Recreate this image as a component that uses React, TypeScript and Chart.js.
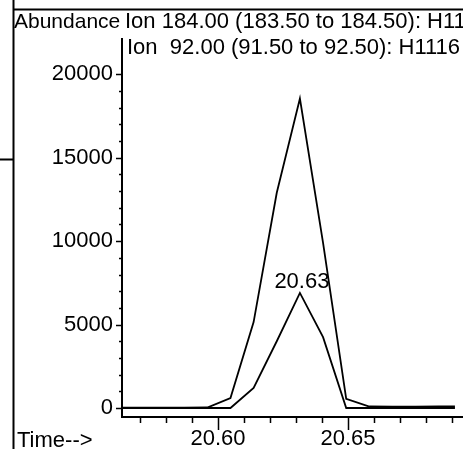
import React, { useEffect, useRef } from "react";
import { Chart, registerables } from "chart.js";
Chart.register(...registerables);

// Retention times (min) of the scans
const times = [20.5603, 20.5692, 20.5781, 20.587, 20.5959, 20.6048, 20.6137, 20.6226, 20.6315, 20.6404, 20.6493, 20.6582, 20.6671, 20.676, 20.6849, 20.6911];
// Ion 184.00 abundance
const ion184 = [20, 20, 20, 20, 30, 600, 5150, 12900, 18550, 9900, 550, 90, 80, 80, 90, 90];
// Ion 92.00 abundance
const ion92 = [0, 0, 0, 0, 0, 0, 1200, 4000, 6900, 4250, 0, 0, 0, 0, 0, 0];

const xTickValues = [20.57, 20.58, 20.59, 20.6, 20.61, 20.62, 20.63, 20.64, 20.65, 20.66, 20.67, 20.68, 20.69];
const xTickLabels = ["", "", "", "20.60", "", "", "", "", "20.65", "", "", "", ""];
const yTickValues = [0, 1000, 2000, 3000, 4000, 5000, 6000, 7000, 8000, 9000, 10000, 11000, 12000, 13000, 14000, 15000, 16000, 17000, 18000, 19000, 20000];
const yTickLabels = ["0", "", "", "", "", "5000", "", "", "", "", "10000", "", "", "", "", "15000", "", "", "", "", "20000"];

const peakLabel = "20.63";
const peakIndex = 8;

const titleLeft = "Abundance";
const title1 = "Ion 184.00 (183.50 to 184.50): H11";
const title2 = "Ion  92.00 (91.50 to 92.50): H1116";
const xTitle = "Time-->";

const FONT = "'Liberation Sans', Arial, sans-serif";

const overlay = {
  id: "overlay",
  afterDraw(chart: any) {
    const ctx = chart.ctx as CanvasRenderingContext2D;
    const xs = chart.scales.x;
    const ys = chart.scales.y;
    const area = chart.chartArea;
    ctx.save();
    ctx.strokeStyle = "#000";
    ctx.fillStyle = "#000";
    ctx.lineWidth = 2;
    // frame
    ctx.beginPath();
    ctx.moveTo(13.5, 0);
    ctx.lineTo(13.5, 449);
    ctx.moveTo(13, 9.5);
    ctx.lineTo(463, 9.5);
    ctx.moveTo(0, 159.5);
    ctx.lineTo(13, 159.5);
    ctx.stroke();
    // y axis extension to top
    ctx.beginPath();
    ctx.moveTo(area.left, area.top);
    ctx.lineTo(area.left, 38);
    ctx.stroke();
    // tick marks
    ctx.lineWidth = 1.5;
    ctx.beginPath();
    xTickValues.forEach((v, i) => {
      const px = Math.round(xs.getPixelForValue(v)) + 0.5;
      const len = xTickLabels[i] ? 13 : 6;
      ctx.moveTo(px, area.bottom);
      ctx.lineTo(px, area.bottom + len);
    });
    yTickValues.forEach((v, i) => {
      const py = Math.round(ys.getPixelForValue(v)) + 0.5;
      const len = yTickLabels[i] ? 6 : 3;
      ctx.moveTo(area.left, py);
      ctx.lineTo(area.left - len, py);
    });
    ctx.stroke();
    // texts
    ctx.font = `22px ${FONT}`;
    ctx.textBaseline = "alphabetic";
    ctx.textAlign = "left";
    ctx.save();
    ctx.font = `21px ${FONT}`;
    ctx.fillText(titleLeft, 14, 28);
    ctx.restore();
    ctx.fillText(title1, 125, 28);
    ctx.fillText(title2, 127, 54);
    ctx.fillText(xTitle, 17, 447);
    // peak annotation
    const px = xs.getPixelForValue(times[peakIndex]);
    const py = ys.getPixelForValue(ion92[peakIndex]);
    ctx.textAlign = "center";
    ctx.fillText(peakLabel, px + 2, py - 5);
    ctx.restore();
  },
};

export default function App() {
  const ref = useRef<HTMLCanvasElement | null>(null);
  useEffect(() => {
    if (!ref.current) return;
    const chart = new Chart(ref.current, {
      type: "line",
      data: {
        datasets: [
          {
            label: "Ion 184.00",
            data: times.map((t, i) => ({ x: t, y: ion184[i] })),
            borderColor: "#000",
            borderWidth: 1.8,
            pointRadius: 0,
            tension: 0,
            fill: false,
          },
          {
            label: "Ion 92.00",
            data: times.map((t, i) => ({ x: t, y: ion92[i] })),
            borderColor: "#000",
            borderWidth: 1.8,
            pointRadius: 0,
            tension: 0,
            fill: false,
          },
        ],
      },
      options: {
        responsive: false,
        animation: false,
        devicePixelRatio: 1,
        layout: { padding: { top: 41, right: 0, left: 0, bottom: 0 } },
        plugins: { legend: { display: false }, tooltip: { enabled: false }, title: { display: false } },
        scales: {
          x: {
            type: "linear",
            min: 20.5631,
            max: 20.6942,
            afterBuildTicks: (s: any) => {
              s.ticks = xTickValues.map((v) => ({ value: v }));
            },
            afterFit: (s: any) => {
              s.height = 32;
              s.paddingLeft = 0;
              s.paddingRight = 0;
            },
            ticks: {
              callback: (_v: any, i: number) => xTickLabels[i],
              autoSkip: false,
              maxRotation: 0,
              padding: 9,
              color: "#000",
              font: { family: FONT, size: 22 },
            },
            grid: { drawOnChartArea: false, drawTicks: false },
            border: { display: true, color: "#000", width: 2 },
          },
          y: {
            type: "linear",
            min: -540,
            max: 22000,
            afterBuildTicks: (s: any) => {
              s.ticks = yTickValues.map((v) => ({ value: v }));
            },
            afterFit: (s: any) => {
              s.width = 122;
              s.paddingTop = 0;
              s.paddingBottom = 0;
            },
            ticks: {
              callback: (_v: any, i: number) => yTickLabels[i],
              autoSkip: false,
              padding: 9,
              color: "#000",
              font: { family: FONT, size: 22 },
            },
            grid: { drawOnChartArea: false, drawTicks: false },
            border: { display: true, color: "#000", width: 2 },
          },
        },
      },
      plugins: [overlay],
    });
    return () => chart.destroy();
  }, []);
  return (
    <div style={{ position: "absolute", left: 0, top: 0, width: 463, height: 449, background: "#fff" }}>
      <canvas ref={ref} width={463} height={449} />
    </div>
  );
}
